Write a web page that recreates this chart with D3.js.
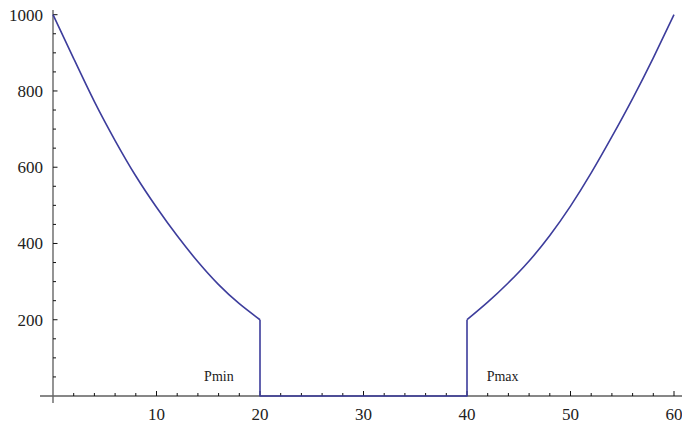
<!DOCTYPE html>
<html>
<head>
<meta charset="utf-8">
<script src="https://cdn.jsdelivr.net/npm/d3@7"></script>
<style>
  body { margin: 0; background: #fff; }
  text { font-family: "Liberation Serif", "Times New Roman", serif; fill: #222; }
</style>
</head>
<body>
<script>
// points: (x, y)
var leftX = [0, 2, 4, 6, 8, 10, 12, 14, 16, 18, 20];
var leftY = [1000, 885, 772, 670, 577, 495, 420, 352, 292, 242, 200];
var stepX = [20, 20, 40, 40];
var stepY = [200, 0, 0, 200];
var rightX = [40, 42, 44, 46, 48, 50, 52, 54, 56, 58, 60];
var rightY = [200, 246, 297, 354, 421, 498, 585, 680, 780, 887, 1000];

var xMajor = [10, 20, 30, 40, 50, 60];
var yMajor = [200, 400, 600, 800, 1000];
var labels = [{ text: "Pmin", x: 14.6 }, { text: "Pmax", x: 41.9 }];

var width = 682,
    height = 423;

var x = d3.scaleLinear().domain([0, 60]).range([53, 674]);
var y = d3.scaleLinear().domain([0, 1000]).range([396, 14.7]);

var svg = d3.select("body").append("svg")
    .attr("width", width)
    .attr("height", height);

var xMinor = d3.range(2, 61, 2).filter(function(d) { return d % 10 != 0; });
var yMinor = d3.range(50, 1000, 50).filter(function(d) { return d % 200 != 0; });

// axes lines
svg.append("line")
    .attr("x1", 40).attr("x2", width)
    .attr("y1", y(0)).attr("y2", y(0))
    .attr("stroke", "#111").attr("stroke-width", 1.2);
svg.append("line")
    .attr("x1", x(0)).attr("x2", x(0))
    .attr("y1", 10).attr("y2", 403)
    .attr("stroke", "#666").attr("stroke-width", 1.4);

// x ticks
svg.selectAll(".xmaj").data(xMajor).enter().append("line")
    .attr("x1", x).attr("x2", x)
    .attr("y1", y(0)).attr("y2", y(0) - 5)
    .attr("stroke", "#111");
svg.selectAll(".xmin").data(xMinor).enter().append("line")
    .attr("x1", x).attr("x2", x)
    .attr("y1", y(0)).attr("y2", y(0) - 3)
    .attr("stroke", "#111");
svg.selectAll(".xlab").data(xMajor).enter().append("text")
    .attr("x", x).attr("y", 420)
    .attr("text-anchor", "middle")
    .style("font-size", "17px")
    .text(function(d) { return d; });

// y ticks
svg.selectAll(".ymaj").data(yMajor).enter().append("line")
    .attr("x1", x(0)).attr("x2", x(0) + 4.5)
    .attr("y1", y).attr("y2", y)
    .attr("stroke", "#111");
svg.selectAll(".ymin").data(yMinor).enter().append("line")
    .attr("x1", x(0)).attr("x2", x(0) + 3)
    .attr("y1", y).attr("y2", y)
    .attr("stroke", "#111");
svg.selectAll(".ylab").data(yMajor).enter().append("text")
    .attr("x", 43).attr("y", function(d) { return y(d) + 6; })
    .attr("text-anchor", "end")
    .style("font-size", "17px")
    .text(function(d) { return d; });

// curve, in three pieces
function zip(a, b) { return a.map(function(d, i) { return [d, b[i]]; }); }

var smooth = d3.line()
    .x(function(d) { return x(d[0]); })
    .y(function(d) { return y(d[1]); })
    .curve(d3.curveNatural);
var straight = d3.line()
    .x(function(d) { return x(d[0]); })
    .y(function(d) { return y(d[1]); });

var pieces = [
  { pts: zip(leftX, leftY), gen: smooth },
  { pts: zip(stepX, stepY), gen: straight },
  { pts: zip(rightX, rightY), gen: smooth }
];

svg.selectAll(".curve").data(pieces).enter().append("path")
    .attr("d", function(d) { return d.gen(d.pts); })
    .attr("fill", "none")
    .attr("stroke", "#3d3d9c")
    .attr("stroke-width", 1.6)
    .attr("stroke-linejoin", "round");

svg.selectAll(".plab").data(labels).enter().append("text")
    .attr("x", function(d) { return x(d.x); })
    .attr("y", 381)
    .style("font-size", "14px")
    .text(function(d) { return d.text; });
</script>
</body>
</html>
